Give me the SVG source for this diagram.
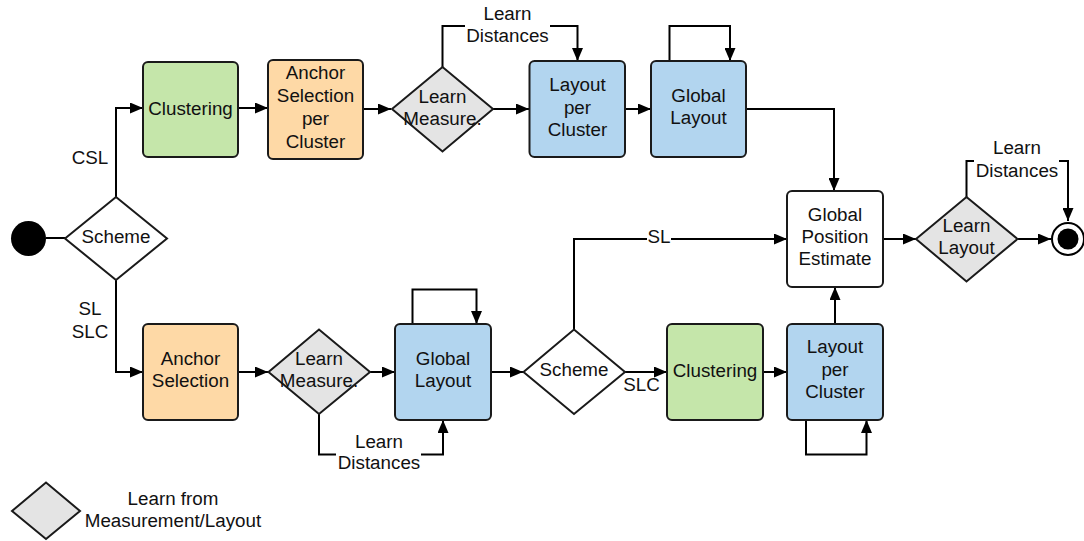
<svg xmlns="http://www.w3.org/2000/svg" width="1084" height="541" viewBox="0 0 1084 541">
  <style>
    .box { stroke: #1a1a1a; stroke-width: 2; }
    .green { fill: #c5e6aa; }
    .orange { fill: #fed9a6; }
    .blue { fill: #b2d5ef; }
    .white { fill: #ffffff; }
    .gray { fill: #e4e4e4; }
    .dia { stroke: #1a1a1a; stroke-width: 2; }
    .edge { fill: none; stroke: #000; stroke-width: 2; }
    text { font-family: "Liberation Sans", Arial, sans-serif; font-size: 18.8px; fill: #111; text-anchor: middle; }
    .bg { fill: #ffffff; }
  </style>
  <defs>
    <marker id="arrow" markerUnits="userSpaceOnUse" markerWidth="13" markerHeight="11" refX="13" refY="5.5" orient="auto">
      <path d="M0,0 L13,5.5 L0,11 z" fill="#000"/>
    </marker>
  </defs>

  <rect width="1084" height="541" fill="#ffffff"/>

  <!-- connectors -->
  <g id="connectors">
    <line class="edge" x1="46" y1="238" x2="65" y2="238"/>
    <polyline class="edge" points="116,197 116,108 143,108" marker-end="url(#arrow)"/>
    <line class="edge" x1="238" y1="108" x2="268" y2="108" marker-end="url(#arrow)"/>
    <line class="edge" x1="363" y1="109" x2="391" y2="109" marker-end="url(#arrow)"/>
    <line class="edge" x1="493" y1="109" x2="529" y2="109" marker-end="url(#arrow)"/>
    <polyline class="edge" points="442.5,67 442.5,26 577.5,26 577.5,61" marker-end="url(#arrow)"/>
    <line class="edge" x1="625" y1="109" x2="651" y2="109" marker-end="url(#arrow)"/>
    <polyline class="edge" points="669.5,61 669.5,26 730,26 730,61" marker-end="url(#arrow)"/>
    <polyline class="edge" points="746,109 834,109 834,191" marker-end="url(#arrow)"/>
    <line class="edge" x1="883" y1="239" x2="916" y2="239" marker-end="url(#arrow)"/>
    <line class="edge" x1="1018" y1="239" x2="1051" y2="239" marker-end="url(#arrow)"/>
    <polyline class="edge" points="966.5,197 966.5,161 1068,161 1068,221" marker-end="url(#arrow)"/>

    <polyline class="edge" points="116,280 116,372 143,372" marker-end="url(#arrow)"/>
    <line class="edge" x1="238" y1="372" x2="268" y2="372" marker-end="url(#arrow)"/>
    <line class="edge" x1="370" y1="372" x2="395" y2="372" marker-end="url(#arrow)"/>
    <polyline class="edge" points="412.5,324 412.5,289.5 476.5,289.5 476.5,324" marker-end="url(#arrow)"/>
    <polyline class="edge" points="319,414 319,454.5 443,454.5 443,420" marker-end="url(#arrow)"/>
    <line class="edge" x1="491" y1="372" x2="523" y2="372" marker-end="url(#arrow)"/>
    <polyline class="edge" points="574,329 574,239 787,239" marker-end="url(#arrow)"/>
    <line class="edge" x1="625" y1="372" x2="667" y2="372" marker-end="url(#arrow)"/>
    <line class="edge" x1="763" y1="372" x2="787" y2="372" marker-end="url(#arrow)"/>
    <line class="edge" x1="835" y1="324" x2="835" y2="287" marker-end="url(#arrow)"/>
    <polyline class="edge" points="806,420 806,454.5 866.5,454.5 866.5,420" marker-end="url(#arrow)"/>

    <!-- connector labels (white backing breaks the line under the text) -->
    <text x="90" y="164">CSL</text>
    <text x="90" y="315">SL</text>
    <text x="90" y="337.5">SLC</text>
    <rect class="bg" x="465" y="4" width="85" height="42"/>
    <text x="507.5" y="20">Learn</text>
    <text x="507.5" y="41.5">Distances</text>
    <rect class="bg" x="974" y="138" width="85" height="42"/>
    <text x="1017" y="154">Learn</text>
    <text x="1017" y="176.5">Distances</text>
    <rect class="bg" x="336" y="428" width="85" height="44"/>
    <text x="379" y="447.5">Learn</text>
    <text x="379" y="469">Distances</text>
    <rect class="bg" x="647" y="228" width="24" height="20"/>
    <text x="659" y="243">SL</text>
    <text x="641.5" y="391">SLC</text>
  </g>

  <!-- start / end -->
  <g id="start">
    <circle cx="28.5" cy="238.5" r="17.5" fill="#000"/>
  </g>
  <g id="end">
    <circle cx="1068" cy="239" r="16" fill="#fff" stroke="#000" stroke-width="2"/>
    <circle cx="1068" cy="239" r="10.5" fill="#000"/>
  </g>

  <!-- top row -->
  <g id="scheme1">
    <polygon class="dia white" points="65,238.5 116,197 167,238.5 116,280"/>
    <text x="116" y="243">Scheme</text>
  </g>
  <g id="clustering1">
    <rect class="box green" x="143" y="62" width="95" height="95" rx="5"/>
    <text x="190.5" y="115">Clustering</text>
  </g>
  <g id="anchor-per-cluster">
    <rect class="box orange" x="268" y="60" width="95" height="99" rx="5"/>
    <text x="315.5" y="79">Anchor</text>
    <text x="315.5" y="102">Selection</text>
    <text x="315.5" y="125">per</text>
    <text x="315.5" y="148">Cluster</text>
  </g>
  <g id="learn-measure1">
    <polygon class="dia gray" points="392,109 442.5,67 493,109 442.5,151.5"/>
    <text x="442.5" y="102.5">Learn</text>
    <text x="442.5" y="125">Measure.</text>
  </g>
  <g id="layout-per-cluster1">
    <rect class="box blue" x="529.5" y="61" width="95.5" height="96" rx="5"/>
    <text x="577.5" y="91">Layout</text>
    <text x="577.5" y="113.5">per</text>
    <text x="577.5" y="136">Cluster</text>
  </g>
  <g id="global-layout1">
    <rect class="box blue" x="651" y="61" width="95" height="96" rx="5"/>
    <text x="698.5" y="102">Global</text>
    <text x="698.5" y="124">Layout</text>
  </g>
  <g id="global-position-estimate">
    <rect class="box white" x="787" y="191" width="96" height="96" rx="5"/>
    <text x="835" y="221">Global</text>
    <text x="835" y="243">Position</text>
    <text x="835" y="265">Estimate</text>
  </g>
  <g id="learn-layout">
    <polygon class="dia gray" points="916,239 966.5,197 1017.5,239 966.5,281.5"/>
    <text x="966.5" y="231.5">Learn</text>
    <text x="966.5" y="253.5">Layout</text>
  </g>

  <!-- bottom row -->
  <g id="anchor-selection">
    <rect class="box orange" x="143" y="324" width="95" height="96" rx="5"/>
    <text x="190.5" y="365">Anchor</text>
    <text x="190.5" y="387">Selection</text>
  </g>
  <g id="learn-measure2">
    <polygon class="dia gray" points="268.5,372 319,329.5 370,372 319,414"/>
    <text x="319" y="365">Learn</text>
    <text x="319" y="387">Measure.</text>
  </g>
  <g id="global-layout2">
    <rect class="box blue" x="395" y="324" width="96" height="96" rx="5"/>
    <text x="443" y="365">Global</text>
    <text x="443" y="387">Layout</text>
  </g>
  <g id="scheme2">
    <polygon class="dia white" points="523.5,372 574,329.5 625,372 574,414"/>
    <text x="574" y="376">Scheme</text>
  </g>
  <g id="clustering2">
    <rect class="box green" x="667" y="324" width="96" height="96" rx="5"/>
    <text x="715" y="376.5">Clustering</text>
  </g>
  <g id="layout-per-cluster2">
    <rect class="box blue" x="787" y="324" width="96" height="96" rx="5"/>
    <text x="835" y="353">Layout</text>
    <text x="835" y="375.5">per</text>
    <text x="835" y="398">Cluster</text>
  </g>

  <!-- legend -->
  <g id="legend">
    <polygon class="dia gray" points="12,511 46,482.5 80,511 46,539"/>
    <text x="173" y="505">Learn from</text>
    <text x="173" y="526.5">Measurement/Layout</text>
  </g>
</svg>
